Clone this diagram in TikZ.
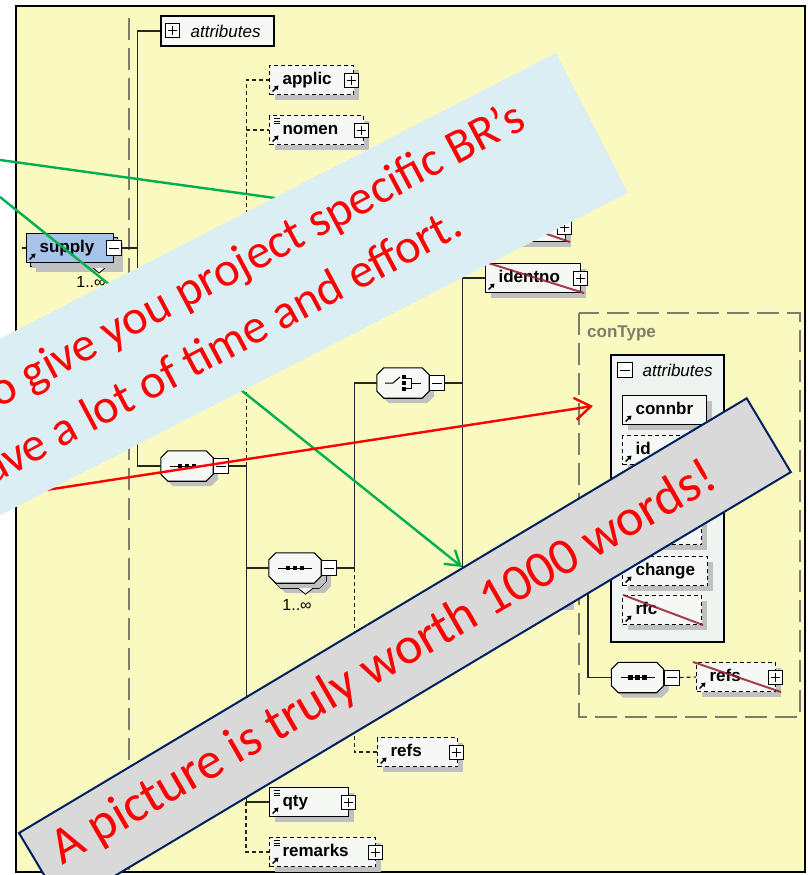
\documentclass[tikz,border=0pt]{standalone}
\usepackage{fontspec}
\setmainfont{Liberation Sans}
\newfontfamily\bannerfont{Carlito}
\usetikzlibrary{positioning,arrows.meta,shadows}

\definecolor{bgyellow}{RGB}{250,250,192}
\definecolor{boxfill}{RGB}{246,248,246}
\definecolor{panelfill}{RGB}{240,244,240}
\definecolor{shadowgrey}{RGB}{192,192,192}
\definecolor{supplyblue}{RGB}{166,196,234}
\definecolor{framegrey}{RGB}{125,125,105}
\definecolor{striker}{RGB}{150,30,50}
\definecolor{bannerblue}{RGB}{218,238,243}
\definecolor{bannergrey}{RGB}{217,217,217}
\definecolor{bannernavy}{RGB}{0,32,96}
\definecolor{arrowgreen}{RGB}{0,176,80}

\tikzset{
  shade box/.style={drop shadow={shadow xshift=5pt,shadow yshift=-5pt,fill=shadowgrey,opacity=1}},
  treeline/.style={draw=black!85, line width=1.1pt},
  optline/.style={treeline, dash pattern=on 4pt off 3pt},
  longdash/.style={draw=framegrey, line width=1.1pt, dash pattern=on 22pt off 8pt},
  elem/.style={rectangle, draw=black, line width=1.1pt, fill=boxfill, shade box,
    minimum height=29pt, inner xsep=13pt, inner ysep=0pt, text width=#1,
    text height=12.5pt, text depth=3.5pt, align=left, anchor=west,
    font=\fontsize{17}{20}\selectfont\bfseries},
  opt elem/.style={elem=#1, dash pattern=on 4pt off 3pt},
  refmark/.style={path picture={
    \draw[solid, line width=1.4pt, -{Triangle[length=4pt,width=5pt]}]
      ([shift={(3pt,3pt)}]path picture bounding box.south west) -- ++(6pt,6pt);}},
  reflist/.style={path picture={
    \draw[solid, line width=1.4pt, -{Triangle[length=4pt,width=5pt]}]
      ([shift={(3pt,3pt)}]path picture bounding box.south west) -- ++(6pt,6pt);
    \draw[solid, line width=0.9pt]
      ([shift={(4pt,-3pt)}]path picture bounding box.north west) -- ++(6pt,0pt)
      ([shift={(4pt,-5.5pt)}]path picture bounding box.north west) -- ++(6pt,0pt)
      ([shift={(4pt,-8pt)}]path picture bounding box.north west) -- ++(6pt,0pt);}},
  pbox/.style={rectangle, draw=black, line width=1pt, fill=white, minimum size=14pt, inner sep=0pt,
    path picture={\draw[line width=1pt]
      ([xshift=2.5pt]path picture bounding box.west) -- ([xshift=-2.5pt]path picture bounding box.east)
      ([yshift=2.5pt]path picture bounding box.south) -- ([yshift=-2.5pt]path picture bounding box.north);}},
  mbox/.style={rectangle, draw=black, line width=1pt, fill=white, minimum size=15pt, inner sep=0pt,
    path picture={\draw[line width=1pt]
      ([xshift=2.5pt]path picture bounding box.west) -- ([xshift=-2.5pt]path picture bounding box.east);}},
  compo/.style={rectangle, minimum width=52pt, minimum height=30pt, inner sep=0pt},
  octa/.style={draw=black, line width=1.1pt, fill=boxfill, shade box},
  icon/.style={line width=1pt},
  stacknotch/.style={draw=black, line width=0.8pt, fill=boxfill},
  occurs/.style={font=\fontsize{16}{18}\selectfont, inner sep=0pt},
  attrbox/.style={rectangle, draw=black, line width=1.1pt, fill=boxfill, inner sep=0pt},
  attrlabel/.style={font=\fontsize{17}{20}\selectfont\itshape, inner sep=0pt},
  typelabel/.style={font=\fontsize{17}{20}\selectfont\bfseries, text=framegrey, inner sep=0pt, anchor=west},
  strikeout/.style={draw=striker, line width=2pt, opacity=.85},
  greenarrow/.style={draw=arrowgreen, line width=2.4pt, -{Straight Barb[length=14pt,width=18pt]}},
  redarrow/.style={draw=red, line width=2.4pt, -{Straight Barb[length=16pt,width=22pt]}},
  bannertext/.style={text=red, inner sep=0pt},
}

\begin{document}
\begin{tikzpicture}[x=1pt, y=-1pt]
  \useasboundingbox (0,0) rectangle (807,875);
  \clip (0,0) rectangle (807,875);
  \fill[white] (0,0) rectangle (807,875);
  \draw[fill=bgyellow, line width=2.5pt] (16,6) rectangle (805,872);
  \draw[longdash] (129,18) -- (129,870);

  % compositors (outlines drawn below)
  \node[compo] (seq1) at (187,466) {};
  \node[compo] (seq2b) at (300,573) {};
  \node[compo] (seq2) at (295,568) {};
  \node[compo] (choice) at (403,383) {};
  \node[compo] (seq3) at (637.5,677.5) {};
  \foreach \c in {seq1,seq2b,seq2,choice,seq3}
    \draw[octa] ([xshift=7pt]\c.north west) -- ([xshift=-7pt]\c.north east)
      -- ([yshift=-7pt]\c.north east) -- ([yshift=7pt]\c.south east)
      -- ([xshift=-7pt]\c.south east) -- ([xshift=7pt]\c.south west)
      -- ([yshift=7pt]\c.south west) -- ([yshift=-7pt]\c.north west) -- cycle;
  \foreach \c in {seq1,seq2,seq3} {
    \begin{scope}[shift={(\c.center)}, x=1pt, y=1pt]
      \draw[icon] (-17,0) -- (17,0);
      \foreach \d in {-7,0,7} \fill (\d-2.4,-2.4) rectangle (\d+2.4,2.4);
    \end{scope}}
  \begin{scope}[shift={(choice.center)}, x=1pt, y=1pt]
    \draw[icon] (-18,0) -- (-10,0) -- (-3,6);
    \foreach \d in {-6,0,6} \fill (-1.5,\d-2.3) rectangle (3,\d+2.3);
    \draw[icon] (3,5) -- (8,5) -- (8,-5) -- (3,-5) (8,0) -- (18,0);
  \end{scope}

  % supply and its content model
  \node[attrbox, minimum width=113pt, minimum height=30pt] (attrs) at (217.5,31) {};
  \node[pbox, right=5pt of attrs.west] (attrsp) {};
  \node[attrlabel, right=10pt of attrsp] (attrstext) {attributes};

  \node[elem=61pt, fill=supplyblue] (supply2) at (30,252) {};
  \draw[stacknotch] ([xshift=18pt]supply2.south) -- ++(7,6) -- ++(7,-6);
  \node[elem=61pt, fill=supplyblue, refmark] (supply) at (26,248) {supply};
  \node[mbox] (supplym) at (supply.east) {};
  \node[occurs] (supplyocc) at (91,282) {1..∞};
  \coordinate (trunk) at (138,248);
  \draw[optline] (supply.west) -- ++(-7,0);
  \draw[treeline] (supplym.east) -- (trunk);

  \node[mbox, right=0pt of seq1] (seq1m) {};
  \draw[treeline] (attrs.west) -- ++(-23,0) |- (seq1.west);
  \draw[treeline] (seq1m.east) -- ++(17,0) coordinate (t2);

  \node[opt elem=58pt, refmark] (applic) at (269,80) {applic};
  \node[pbox] (applicp) at ([xshift=-3pt]applic.east) {};
  \node[opt elem=68pt, reflist] (nomen) at (269,130) {nomen};
  \node[pbox] (nomenp) at ([xshift=-3pt]nomen.east) {};
  \draw[optline] (t2) |- (applic.west);
  \draw[optline] (t2) |- (nomen.west);

  \draw[stacknotch] ([xshift=-2pt]seq2b.south) -- ++(7.5,6) -- ++(7.5,-6);
  \node[mbox, right=0pt of seq2] (seq2m) {};
  \node[occurs] (seq2occ) at (297,605) {1..∞};
  \draw[treeline] (t2) |- (seq2.west);
  \draw[treeline] (seq2m.east) -- ++(17,0) coordinate (t3);

  \node[elem=53pt, reflist] (qty) at (269,802) {qty};
  \node[pbox] (qtyp) at ([xshift=-1pt]qty.east) {};
  \node[opt elem=80pt, reflist] (remarks) at (269,852) {remarks};
  \node[pbox] (remarksp) at ([xshift=-1pt]remarks.east) {};
  \draw[treeline] (t2) |- (qty.west);
  \draw[optline] (qty.west) ++(-23,0) |- (remarks.west);

  \node[mbox, right=0pt of choice] (choicem) {};
  \draw[treeline] (t3) |- (choice.west);
  \draw[treeline] (choicem.east) -- ++(17,0) coordinate (t4);

  \node[opt elem=54pt, refmark] (refs) at (377,752) {refs};
  \node[pbox] (refsp) at ([xshift=-2pt]refs.east) {};
  \draw[optline] (t3) |- (refs.west);

  \node[elem=54pt] (xbox) at (485,227) {};
  \node[pbox] (xboxp) at ([xshift=-2pt]xbox.east) {};
  \draw[strikeout] ([xshift=-2pt]xbox.north west) -- ([xshift=4pt]xbox.south east);
  \node[elem=69pt, refmark] (identno) at (485,278) {identno};
  \node[pbox] (identnop) at ([xshift=-1pt]identno.east) {};
  \draw[strikeout] ([xshift=3pt]identno.north west) -- ([xshift=3pt]identno.south east);
  \node[elem=57pt] (xbox2) at (485,590) {};
  \draw[treeline] (t4) |- (xbox.west);
  \draw[treeline] (t4) |- (identno.west);
  \draw[treeline] (t4) |- (xbox2.west);

  % conType
  \draw[longdash] (579,313) rectangle (800,717);
  \node[typelabel] (contype) at (587,333) {conType};
  \node[attrbox, fill=panelfill, minimum width=113pt, minimum height=287pt] (panel) at (667.5,498.5) {};
  \node[mbox] (panelm) at (624.5,370) {};
  \node[attrlabel, right=10pt of panelm] (paneltext) {attributes};
  \node[elem=58pt, refmark] (connbr) at (622,410) {connbr};
  \node[opt elem=58pt, refmark] (id) at (622,450) {id};
  \node[opt elem=58pt] (attr3) at (622,490) {};
  \node[opt elem=53pt] (attr4) at (622,530) {};
  \node[opt elem=59pt, refmark] (change) at (622,571) {change};
  \node[opt elem=53pt, refmark] (rfc) at (622,610) {rfc};
  \draw[strikeout] ([xshift=1pt]rfc.north west) -- ([xshift=1pt]rfc.south east);

  \node[mbox, right=0pt of seq3] (seq3m) {};
  \coordinate (ctline) at (588,560);
  \draw[treeline] (ctline) |- (seq3.west);
  \node[opt elem=53pt, refmark] (refs2) at (696,677) {refs};
  \node[pbox] (refs2p) at ([xshift=-1pt]refs2.east) {};
  \draw[optline] (seq3m.east) -- (refs2.west);
  \draw[strikeout] ([xshift=-3pt]refs2.north west) -- ([xshift=5pt]refs2.south east);

  % call-outs
  \coordinate (gstart1) at (0,160);
  \coordinate (gstart2) at (0,197);
  \coordinate (gtip2) at (462,567);
  \coordinate (rstart) at (20,494);
  \coordinate (rtip) at (593,406);
  \draw[greenarrow] (gstart1) -- (xbox.west);
  \draw[greenarrow] (gstart2) -- (gtip2);
  \draw[redarrow] (rstart) -- (rtip);

  \fill[bannerblue] (556,53) -- (627.8,192.6) -- (-172.7,604) -- (-244.5,464.4) -- cycle;
  \node[bannertext, font=\bannerfont\fontsize{48.5}{50}\selectfont, rotate=28, anchor=base east] (brline1) at (528,127) {to give you project specific BR’s};
  \node[bannertext, font=\bannerfont\fontsize{48.5}{50}\selectfont, rotate=28, anchor=base east] (brline2) at (465,234) {ave a lot of time and effort.};

  \filldraw[fill=bannergrey, draw=bannernavy, line width=2pt] (19,833) -- (746.7,398.3) -- (790.8,472.1) -- (63.1,906.8) -- cycle;
  \node[bannertext, font=\bannerfont\fontsize{52}{55}\selectfont, rotate=30, anchor=base] (motto) at (391,676) {A picture is truly worth 1000 words!};
\end{tikzpicture}
\end{document}
